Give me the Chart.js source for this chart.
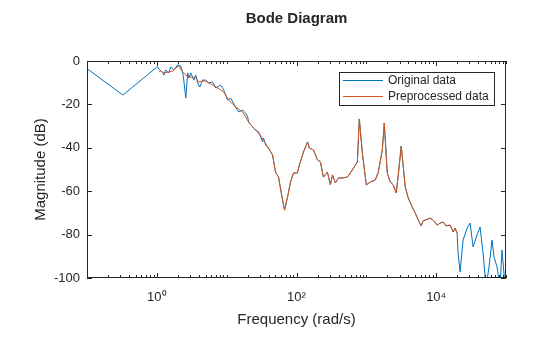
<!DOCTYPE html>
<html>
<head>
<meta charset="utf-8">
<script src="https://cdn.jsdelivr.net/npm/chart.js@4.4.1/dist/chart.umd.min.js"></script>
<style>
  html, body { margin: 0; padding: 0; background: #fff; }
  #wrap { width: 560px; height: 337px; }
</style>
</head>
<body>
<div id="wrap"><canvas id="bodeChart" width="560" height="337"></canvas></div>
<script>
// Preprocessed response (rad/s, dB)
const orangeFreq = [1.07, 1.14, 1.26, 1.48, 1.69, 1.87, 2.06, 2.35, 2.6, 2.87,
  3.27, 3.61, 3.98, 4.54, 5.01, 5.53, 6.31, 7.44, 9.06, 10.3,
  11.4, 13.4, 14.8, 16.9, 18.7, 20.6, 24.3, 28.7, 33.8, 38.5,
  45.4, 50.1, 55.3, 63.1, 67.4, 74.4, 82.1, 90.6, 103, 110,
  126, 144, 153, 175, 200, 220, 243, 277, 306, 327,
  361, 398, 454, 535, 631, 744, 794, 877, 1000, 1140,
  1345, 1484, 1694, 1807, 1995, 2203, 2432, 2683, 2865, 3162,
  3607, 3981, 4540, 5012, 5534, 6105, 6520, 8204, 9060, 10330,
  11400, 12590, 13900, 15850, 17500, 18680, 19950];
const orangeMag = [-5.1, -4.6, -5.5, -5.1, -4.6, -3.2, -2.3, -5.1, -6.5, -7.4,
  -7.4, -7.8, -9.7, -9.2, -9.2, -10.1, -11.1, -12.4, -14.3, -17.1,
  -18.9, -21.2, -22.1, -23.5, -25.8, -28.1, -30.9, -33.2, -36.4, -39.6,
  -43.3, -51.2, -53.5, -64.1, -68.7, -62.7, -55.8, -51.6, -51.6, -47.9,
  -41.9, -37.3, -40.1, -41.0, -45.6, -46.5, -53.5, -51.2, -57.1, -52.5,
  -56.2, -53.9, -53.9, -53.5, -50.2, -46.5, -26.7, -42.4, -57.1, -55.8,
  -54.8, -51.2, -41.0, -28.6, -51.6, -55.8, -57.1, -60.8, -52.5, -39.2,
  -58.1, -63.1, -67.3, -70.0, -73.3, -76.0, -73.7, -72.4, -73.3, -75.6,
  -74.7, -74.2, -76.0, -75.6, -78.8, -77.0, -79.3];

// Original data: low-frequency part, then same as preprocessed, then noisy tail
const blueLowFreq = [0.1, 0.327, 1.0, 1.03, 1.07, 1.22, 1.26, 1.34, 1.48, 1.58,
  1.75, 2.0, 2.2, 2.35, 2.43, 2.6, 2.77, 2.87, 3.06, 3.38,
  3.61, 3.85, 4.12, 4.54, 5.01, 5.53, 6.31, 6.96, 8.21, 9.06,
  10.3, 11.4, 13.4, 14.8, 16.9, 18.7, 20.0, 20.6, 24.3, 26.0,
  28.7, 32.7, 33.8, 36.1, 39.8];
const blueLowMag = [-3.5, -15.7, -2.8, -2.8, -3.7, -5.5, -6.5, -4.1, -5.5, -2.8,
  -4.1, -1.8, -2.3, -5.5, -8.8, -17.1, -5.5, -7.8, -5.5, -8.8,
  -6.5, -10.1, -12.0, -8.8, -8.8, -10.1, -9.7, -12.4, -11.1, -13.4,
  -18.0, -17.1, -21.2, -23.5, -22.6, -24.0, -25.8, -28.1, -30.9, -31.8,
  -32.7, -37.3, -35.5, -38.7, -40.1];
const blueHighFreq = [20600, 22030, 24320, 27730, 30600, 33800, 38500, 42500, 46900,
  51800, 57200, 63100, 67400, 74300, 82000, 87700, 96800, 100000];
const blueHighMag = [-88.5, -97.2, -82.5, -77.0, -74.7, -85.7, -80.2, -76.5, -88.5,
  -104, -94.9, -82.5, -90.3, -94.9, -104, -87.1, -104, -88];

const xTickValues = [1, 100, 10000];
const xTickLabels = ['10\u2070', '10\u00B2', '10\u2074'];
const yTickStep = 20;

const BLUE = '#0072BD';
const ORANGE = '#D95319';
const AXIS = '#262626';
const FONT = '"Liberation Sans", Arial, sans-serif';

function toPoints(freq, mag) {
    return freq.map(function(f, i) { return { x: f, y: mag[i] }; });
}

const blueFreq = blueLowFreq.concat(orangeFreq.slice(30), blueHighFreq);
const blueMag = blueLowMag.concat(orangeMag.slice(30), blueHighMag);

// box, inward ticks, title and legend the MATLAB way
const bodeFrame = {
    id: 'bodeFrame',
    afterDatasetsDraw(chart) {
        const ctx = chart.ctx;
        const a = chart.chartArea;
        const xs = chart.scales.x;
        const ys = chart.scales.y;
        ctx.save();
        ctx.strokeStyle = AXIS;
        ctx.lineWidth = 1;
        ctx.strokeRect(a.left + 0.5, a.top + 0.5, a.right - a.left - 1, a.bottom - a.top - 1);

        ctx.beginPath();
        for (let k = -1; k <= 5; k++) {
            for (let m = 1; m <= 9; m++) {
                const v = m * Math.pow(10, k);
                if (v < 0.1 || v > 100000) continue;
                const len = xTickValues.indexOf(v) >= 0 ? 5 : 3;
                const px = Math.round(xs.getPixelForValue(v)) + 0.5;
                ctx.moveTo(px, a.bottom);
                ctx.lineTo(px, a.bottom - len);
                ctx.moveTo(px, a.top);
                ctx.lineTo(px, a.top + len);
            }
        }
        for (let v = -100; v <= 0; v += yTickStep) {
            const py = Math.round(ys.getPixelForValue(v)) + 0.5;
            ctx.moveTo(a.left, py);
            ctx.lineTo(a.left + 5, py);
            ctx.moveTo(a.right, py);
            ctx.lineTo(a.right - 5, py);
        }
        ctx.stroke();

        // title
        ctx.fillStyle = AXIS;
        ctx.font = 'bold 15px ' + FONT;
        ctx.textAlign = 'center';
        ctx.textBaseline = 'middle';
        ctx.fillText('Bode Diagram', (a.left + a.right) / 2, 19);

        // legend
        const lx = 339, ly = 72, lw = 155, lh = 33;
        ctx.fillStyle = '#fff';
        ctx.fillRect(lx, ly, lw, lh);
        ctx.strokeStyle = AXIS;
        ctx.strokeRect(lx + 0.5, ly + 0.5, lw, lh);
        const items = [['Original data', BLUE, 80], ['Preprocessed data', ORANGE, 96]];
        ctx.font = '12px ' + FONT;
        ctx.textAlign = 'left';
        items.forEach(function(it) {
            ctx.strokeStyle = it[1];
            ctx.beginPath();
            ctx.moveTo(343, it[2] + 0.5);
            ctx.lineTo(383, it[2] + 0.5);
            ctx.stroke();
            ctx.fillStyle = AXIS;
            ctx.fillText(it[0], 388, it[2] + 0.5);
        });
        ctx.restore();
    }
};

document.addEventListener('DOMContentLoaded', function() {
    const el = document.getElementById('bodeChart');
    new Chart(el, {
        type: 'line',
        data: {
            datasets: [
                {
                    label: 'Preprocessed data',
                    data: toPoints(orangeFreq, orangeMag),
                    borderColor: ORANGE,
                    borderWidth: 1,
                    pointRadius: 0,
                    tension: 0,
                    order: 0
                },
                {
                    label: 'Original data',
                    data: toPoints(blueFreq, blueMag),
                    borderColor: BLUE,
                    borderWidth: 1,
                    pointRadius: 0,
                    tension: 0,
                    order: 1
                }
            ]
        },
        options: {
            responsive: false,
            animation: false,
            devicePixelRatio: 1,
            layout: { padding: { top: 61, right: 54, left: 0, bottom: 0 } },
            plugins: {
                legend: { display: false },
                title: { display: false },
                tooltip: { enabled: false }
            },
            scales: {
                x: {
                    type: 'logarithmic',
                    min: 0.1,
                    max: 100000,
                    grid: { display: false, drawTicks: false },
                    border: { display: false },
                    afterBuildTicks: function(scale) {
                        scale.ticks = xTickValues.map(function(v) { return { value: v }; });
                    },
                    afterFit: function(scale) { scale.height = 59; },
                    ticks: {
                        autoSkip: false,
                        maxRotation: 0,
                        padding: 12,
                        color: AXIS,
                        font: { family: FONT, size: 13 },
                        callback: function(value, index) { return xTickLabels[index]; }
                    },
                    title: {
                        display: true,
                        text: 'Frequency (rad/s)',
                        color: AXIS,
                        font: { family: FONT, size: 15 },
                        padding: { top: 0, bottom: 8 }
                    }
                },
                y: {
                    min: -100,
                    max: 0,
                    grid: { display: false, drawTicks: false },
                    border: { display: false },
                    afterFit: function(scale) { scale.width = 87; },
                    ticks: {
                        stepSize: yTickStep,
                        padding: 7,
                        color: AXIS,
                        font: { family: FONT, size: 13 }
                    },
                    title: {
                        display: true,
                        text: 'Magnitude (dB)',
                        color: AXIS,
                        font: { family: FONT, size: 15 },
                        padding: { top: 32, bottom: 0 }
                    }
                }
            }
        },
        plugins: [bodeFrame]
    });
});
</script>
</body>
</html>
